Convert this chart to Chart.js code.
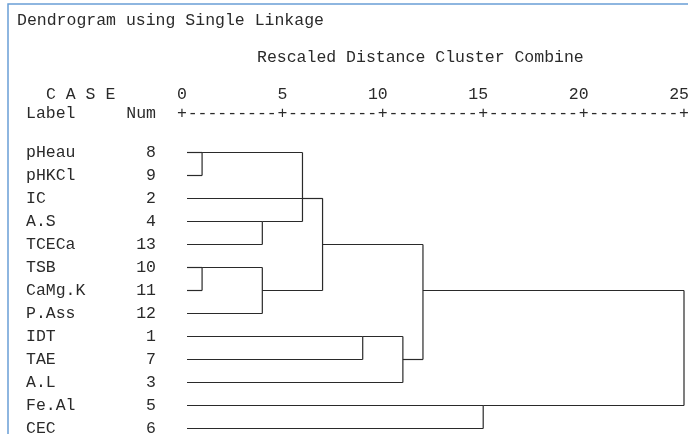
<!DOCTYPE html>
<html>
<head>
<meta charset="utf-8">
<script src="https://cdn.jsdelivr.net/npm/chart.js@4"></script>
<style>
  html, body { margin: 0; padding: 0; background: #fff; }
</style>
</head>
<body>
<canvas id="dendro" width="688" height="434"></canvas>
<script>
// cases, top to bottom as they appear in the dendrogram
const caseLabels = ["pHeau", "pHKCl", "IC", "A.S", "TCECa", "TSB", "CaMg.K", "P.Ass", "IDT", "TAE", "A.L", "Fe.Al", "CEC"];
const caseNums = [8, 9, 2, 4, 13, 10, 11, 12, 1, 7, 3, 5, 6];

// merges: node ids 0..12 are the cases, merge k makes node 13 + k
const mergeLeft  = [0, 5, 3, 14, 13, 2, 18, 8, 20, 19, 11, 22];
const mergeRight = [1, 6, 4, 7, 15, 17, 16, 9, 10, 21, 12, 23];
const mergeDist  = [1, 1, 4, 4, 6, 7, 7, 9, 11, 12, 15, 25];
const mergeRow   = [0, 5, 3, 6, 2, 2, 4, 8, 9, 6, 11, 8];

const axisTicks = [0, 5, 10, 15, 20, 25];
const leafStart = 0.25;

const FONT = "'Courier New', 'Liberation Mono', monospace";
const FSIZE = 16.5;
const INK = "#2a2a2a";

// build the line segments from the merge table
const nodeX = caseLabels.map(() => leafStart);
const nodeRow = caseLabels.map((_, i) => i);
const segments = [];
mergeDist.forEach((d, k) => {
    const a = mergeLeft[k], b = mergeRight[k];
    segments.push([{x: nodeX[a], y: nodeRow[a]}, {x: d, y: nodeRow[a]}]);
    segments.push([{x: nodeX[b], y: nodeRow[b]}, {x: d, y: nodeRow[b]}]);
    segments.push([{x: d, y: nodeRow[a]}, {x: d, y: nodeRow[b]}]);
    nodeX.push(d);
    nodeRow.push(mergeRow[k]);
});

const datasets = segments.map(seg => ({
    data: seg,
    showLine: true,
    borderColor: INK,
    borderWidth: 1.2,
    pointRadius: 0,
    clip: false
}));

const frame = {
    id: "frame",
    beforeDraw(chart) {
        const ctx = chart.ctx;
        ctx.save();
        ctx.fillStyle = "#fff";
        ctx.fillRect(0, 0, chart.width, chart.height);
        ctx.strokeStyle = "#6a9fd6";
        ctx.lineWidth = 1.5;
        ctx.beginPath();
        ctx.moveTo(8, chart.height);
        ctx.lineTo(8, 4);
        ctx.lineTo(chart.width, 4);
        ctx.stroke();
        ctx.restore();
    },
    afterDraw(chart) {
        const ctx = chart.ctx;
        const xs = chart.scales.x, ys = chart.scales.y;
        ctx.save();
        ctx.fillStyle = INK;
        ctx.font = FSIZE + "px " + FONT;
        ctx.textBaseline = "alphabetic";
        ctx.textAlign = "left";
        ctx.fillText("Dendrogram using Single Linkage", 17, 25);
        ctx.fillText("Rescaled Distance Cluster Combine", 257, 62);
        ctx.fillText("C A S E", 46, 99);
        ctx.fillText("Label", 26, 118);
        ctx.textAlign = "right";
        ctx.fillText("Num", 156, 118);
        // tick numbers: last digit sits over the "+"
        const half = ctx.measureText("0").width / 2;
        axisTicks.forEach(v => {
            ctx.fillText(String(v), xs.getPixelForValue(v) + half, 99);
        });
        ctx.textAlign = "center";
        axisTicks.forEach((v, i) => {
            const px = xs.getPixelForValue(v);
            ctx.fillText("+", px, 118);
            if (i < axisTicks.length - 1) {
                const nx = xs.getPixelForValue(axisTicks[i + 1]);
                ctx.fillText("---------", (px + nx) / 2, 118);
            }
        });
        // case rows
        ctx.textBaseline = "middle";
        caseLabels.forEach((lab, i) => {
            const py = ys.getPixelForValue(i);
            ctx.textAlign = "left";
            ctx.fillText(lab, 26, py);
            ctx.textAlign = "right";
            ctx.fillText(String(caseNums[i]), 156, py);
        });
        ctx.restore();
    }
};

new Chart(document.getElementById("dendro"), {
    type: "scatter",
    data: { datasets: datasets },
    options: {
        responsive: false,
        animation: false,
        layout: { padding: { left: 182, right: 4, top: 152.5, bottom: 5.5 } },
        scales: {
            x: { type: "linear", min: 0, max: 25, display: false },
            y: { type: "linear", min: 0, max: 12, reverse: true, display: false }
        },
        plugins: {
            legend: { display: false },
            tooltip: { enabled: false }
        }
    },
    plugins: [frame]
});
</script>
</body>
</html>
